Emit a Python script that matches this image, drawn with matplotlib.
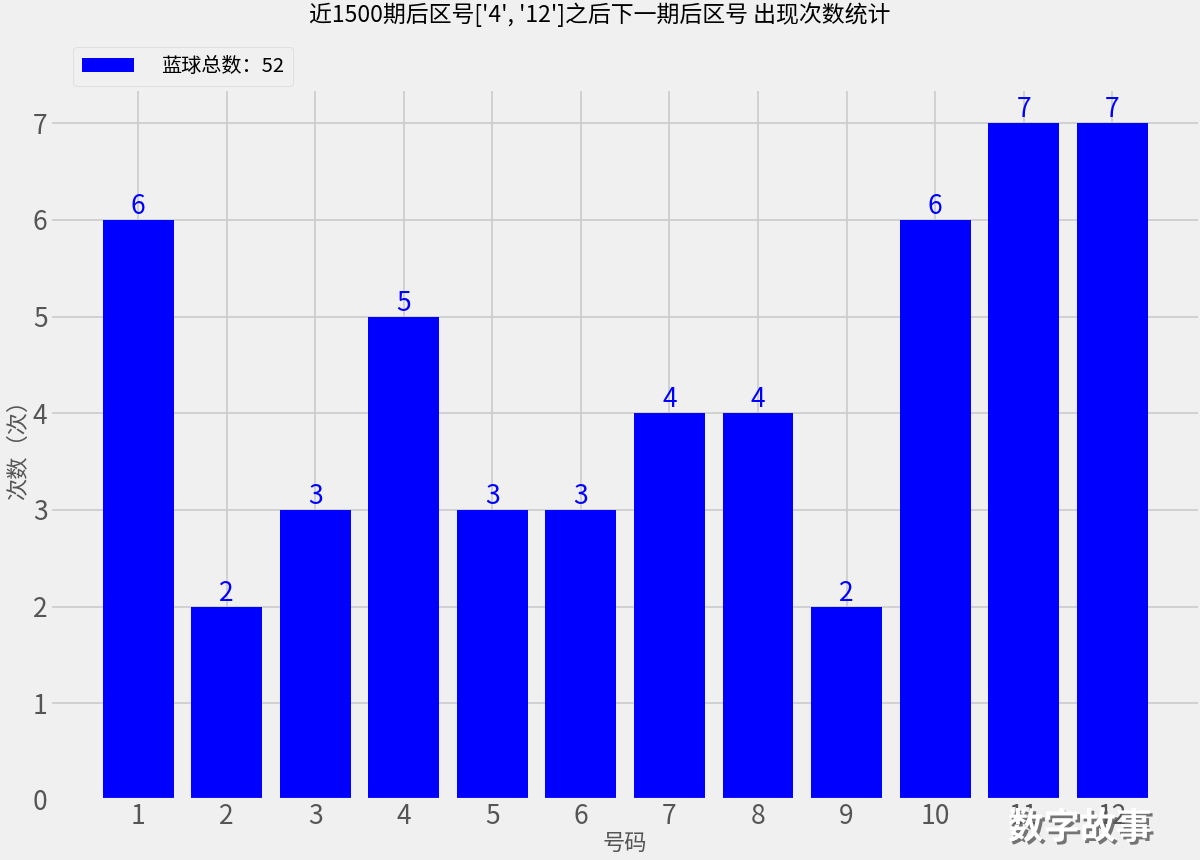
import matplotlib
matplotlib.use('Agg')
import matplotlib.pyplot as plt
import matplotlib.patheffects as pe

plt.style.use('fivethirtyeight')
plt.rcParams['font.family'] = ['Noto Sans CJK SC', 'DejaVu Sans']
plt.rcParams['axes.unicode_minus'] = False

# 号码 and 出现次数
numbers = [1, 2, 3, 4, 5, 6, 7, 8, 9, 10, 11, 12]
counts = [6, 2, 3, 5, 3, 3, 4, 4, 2, 6, 7, 7]
title = "近1500期后区号['4', '12']之后下一期后区号 出现次数统计"
legend_label = '蓝球总数：52'

fig = plt.figure(figsize=(12, 8.6), dpi=100)
ax = fig.add_axes([0.042, 0.07, 0.958, 0.826])

bars = ax.bar(numbers, counts, width=0.8, color='blue', label=legend_label)
for x, c in zip(numbers, counts):
    ax.text(x, c, str(c), ha='center', va='bottom', color='blue', fontsize=19)

ax.set_xticks(numbers)
ax.set_xlim(0.01, 12.99)
ax.set_ylim(0, 7.35)
ax.tick_params(axis='both', labelsize=19, colors='#555555', pad=2)
ax.set_xlabel('号码', fontsize=16, color='#555555', labelpad=2)
ax.set_ylabel('次数（次）', fontsize=16, color='#555555', labelpad=2)
ax.grid(True, color='#cbcbcb', linewidth=1.2)

fig.suptitle(title, fontsize=16.5, y=0.997, va='top')
ax.legend(loc='upper left', bbox_to_anchor=(73 / 1200, 1 - 47 / 860),
          bbox_transform=fig.transFigure, borderaxespad=0, fontsize=14.5,
          handlelength=2.6, handletextpad=1.3, borderpad=0.45,
          framealpha=1, facecolor='#f0f0f0', edgecolor='#d8d8d8')

# watermark
fig.text(0.96, 0.037, '数字故事', fontsize=26, color='white', ha='right', va='center',
         fontweight='bold', zorder=10,
         path_effects=[pe.withSimplePatchShadow(offset=(2, -2), shadow_rgbFace='#555555', alpha=0.8)])

fig.savefig('out.png', dpi=100, facecolor='#f0f0f0')
